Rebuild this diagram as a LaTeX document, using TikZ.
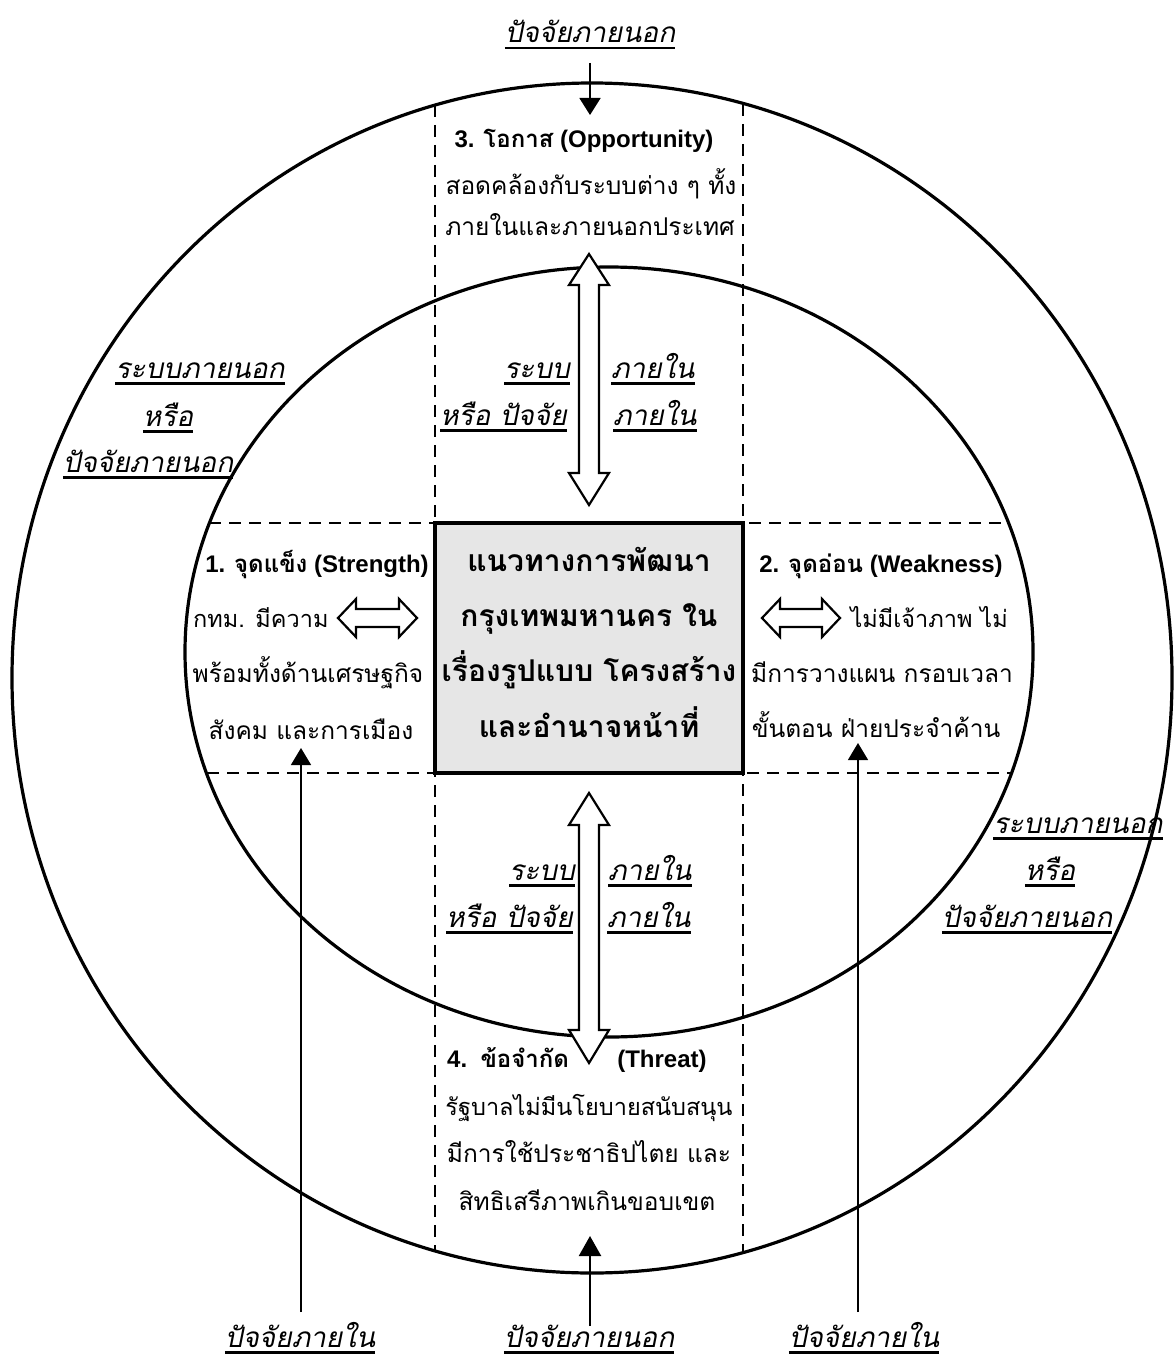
\documentclass[tikz,border=0pt]{standalone}
\usepackage{fontspec}
\setmainfont{Liberation Sans}
\newfontfamily\thf[Script=Thai]{Loma}
\newfontfamily\thit[Script=Thai,FakeSlant=0.2]{Loma}
\usetikzlibrary{arrows.meta}
\definecolor{boxgray}{RGB}{230,230,230}
\newcommand\ulx[1]{\setbox0=\hbox{#1}\rlap{\rule[-6.5pt]{\wd0}{2.2pt}}\box0}
\begin{document}
\begin{tikzpicture}[x=1pt,y=-1pt,
  ring/.style={line width=3.2pt},
  dashln/.style={line width=1.8pt,dash pattern=on 12pt off 8pt},
  hollow/.style={draw,fill=white,line width=2.2pt,line join=miter},
  body/.style={font=\thf\fontsize{24.5}{28}\selectfont,inner sep=0pt,anchor=base},
  bodys/.style={font=\thf\fontsize{23.5}{28}\selectfont,inner sep=0pt,anchor=base},
  head/.style={font=\bfseries\fontsize{24}{28}\selectfont,inner sep=0pt,anchor=base},
  boxtxt/.style={font=\thf\bfseries\fontsize{30}{34}\selectfont,inner sep=0pt,anchor=base},
  lbl/.style={font=\thit\fontsize{28}{31}\selectfont,inner sep=0pt,anchor=base},
  thinarr/.style={line width=1.3pt,-{Triangle[length=17pt,width=20pt]}},
  thickarr/.style={line width=2.2pt,-{Triangle[length=20pt,width=22pt]}}]
\useasboundingbox (0,0) rectangle (1175,1359);
\fill[white] (0,0) rectangle (1175,1359);
% ellipses
\draw[ring] (592,678) ellipse [x radius=580, y radius=595];
\draw[ring] (609,652) ellipse [x radius=424, y radius=385];
% dashed grid
\draw[dashln] (435,105) -- (435,1251);
\draw[dashln] (743,104) -- (743,1252);
\draw[dashln] (209,523) -- (1010,523);
\draw[dashln] (207,773) -- (1011,773);
% central box
\node[draw,line width=4pt,fill=boxgray,minimum width=308pt,minimum height=250pt,inner sep=0pt] (core) at (589,648) {};
\node[boxtxt] (c1) at (589,571) {แนวทางการพัฒนา};
\node[boxtxt] (c2) at (589,626) {กรุงเทพมหานคร ใน};
\node[boxtxt] (c3) at (589,681) {เรื่องรูปแบบ โครงสร้าง};
\node[boxtxt] (c4) at (589,737) {และอำนาจหน้าที่};
% hollow double arrows
\draw[hollow] (589,254) -- (609,285) -- (599,285) -- (599,473) -- (609,473) -- (589,505) -- (569,473) -- (579,473) -- (579,285) -- (569,285) -- cycle;
\draw[hollow] (589,793) -- (609,825) -- (599,825) -- (599,1030) -- (609,1030) -- (589,1063) -- (569,1030) -- (579,1030) -- (579,825) -- (569,825) -- cycle;
\draw[hollow] (338,618) -- (356,599) -- (356,609) -- (399,609) -- (399,599) -- (417,618) -- (399,637) -- (399,627) -- (356,627) -- (356,637) -- cycle;
\draw[hollow] (762,618) -- (780,599) -- (780,609) -- (822,609) -- (822,599) -- (840,618) -- (822,637) -- (822,627) -- (780,627) -- (780,637) -- cycle;
% top: opportunity
\node[lbl] (topext) at (590,43) {\ulx{ปัจจัยภายนอก}};
\node[head] (o1) at (584,148) {3. {\thf โอกาส} (Opportunity)};
\node[body] (o2) at (591,195) {สอดคล้องกับระบบต่าง ๆ ทั้ง};
\node[body] (o3) at (590,235) {ภายในและภายนอกประเทศ};
% upper labels
\node[lbl,anchor=base east] (u1) at (570,378) {\ulx{ระบบ}};
\node[lbl,anchor=base east] (u2) at (567,425) {\ulx{หรือ ปัจจัย}};
\node[lbl,anchor=base west] (u3) at (611,378) {\ulx{ภายใน}};
\node[lbl,anchor=base west] (u4) at (613,425) {\ulx{ภายใน}};
% lower labels
\node[lbl,anchor=base east] (d1) at (575,880) {\ulx{ระบบ}};
\node[lbl,anchor=base east] (d2) at (573,927) {\ulx{หรือ ปัจจัย}};
\node[lbl,anchor=base west] (d3) at (608,880) {\ulx{ภายใน}};
\node[lbl,anchor=base west] (d4) at (607,927) {\ulx{ภายใน}};
% outer left labels
\node[lbl] (ol1) at (200,378) {\ulx{ระบบภายนอก}};
\node[lbl] (ol2) at (168,426) {\ulx{หรือ}};
\node[lbl] (ol3) at (148,472) {\ulx{ปัจจัยภายนอก}};
% outer right labels
\node[lbl] (or1) at (1078,833) {\ulx{ระบบภายนอก}};
\node[lbl] (or2) at (1050,880) {\ulx{หรือ}};
\node[lbl] (or3) at (1027,927) {\ulx{ปัจจัยภายนอก}};
% strength
\node[head] (s1) at (317,572) {1. {\thf จุดแข็ง} (Strength)};
\node[bodys,anchor=base west] (s2) at (193,627) {กทม. มีความ};
\node[body] (s3) at (308,682) {พร้อมทั้งด้านเศรษฐกิจ};
\node[body] (s4) at (311,739) {สังคม และการเมือง};
% weakness
\node[head] (w1) at (881,572) {2. {\thf จุดอ่อน} (Weakness)};
\node[bodys,anchor=base east] (w2) at (1008,627) {ไม่มีเจ้าภาพ ไม่};
\node[body] (w3) at (882,682) {มีการวางแผน กรอบเวลา};
\node[body] (w4) at (876,737) {ขั้นตอน ฝ่ายประจำค้าน};
% threat
\node[head,anchor=base west] (t1) at (447,1067) {4.\ \ {\thf ข้อจำกัด}};
\node[head] (t1b) at (662,1067) {(Threat)};
\node[bodys] (t2) at (589,1115) {รัฐบาลไม่มีนโยบายสนับสนุน};
\node[body] (t3) at (589,1162) {มีการใช้ประชาธิปไตย และ};
\node[body] (t4) at (587,1210) {สิทธิเสรีภาพเกินขอบเขต};
% bottom labels
\node[lbl] (bl) at (300,1347) {\ulx{ปัจจัยภายใน}};
\node[lbl] (bc) at (589,1347) {\ulx{ปัจจัยภายนอก}};
\node[lbl] (br) at (864,1347) {\ulx{ปัจจัยภายใน}};
% thin arrows
\coordinate (ta0) at (590,63);
\coordinate (ta1) at (590,115);
\draw[line width=1.8pt,-{Triangle[length=17pt,width=21pt]}] (ta0) -- (ta1);
\coordinate (la0) at (301,1312);
\coordinate (la1) at (301,748);
\draw[thinarr] (la0) -- (la1);
\coordinate (ra0) at (858,1312);
\coordinate (ra1) at (858,743);
\draw[thinarr] (ra0) -- (ra1);
\coordinate (ca0) at (590,1326);
\coordinate (ca1) at (590,1236);
\draw[thickarr] (ca0) -- (ca1);
\end{tikzpicture}
\end{document}
